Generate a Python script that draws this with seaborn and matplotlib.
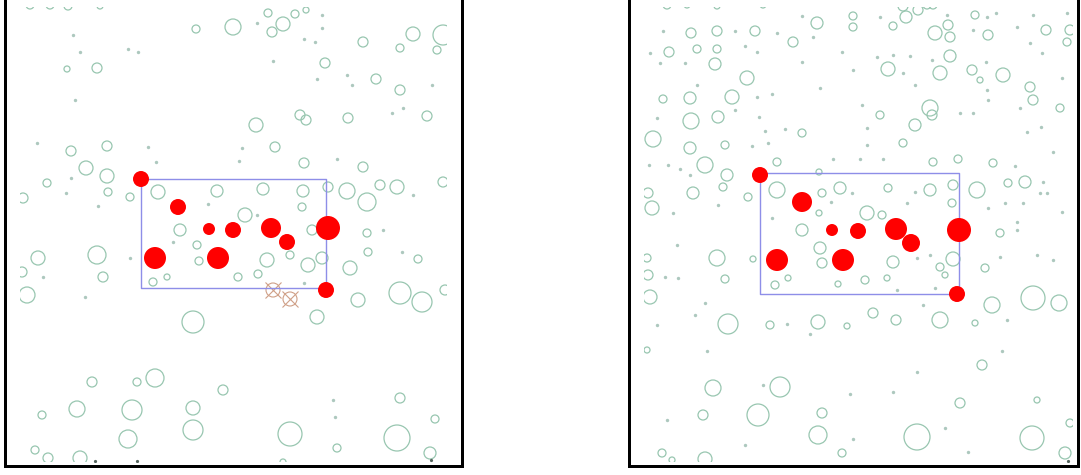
import numpy as np
import pandas as pd
import matplotlib
matplotlib.use("Agg")
import matplotlib.pyplot as plt
from matplotlib.patches import Rectangle
import seaborn as sns

# ========== DATA (positions in picture pixels, r = radius in pixels) ==========

LEFT_RINGS = [
    (30, 5, 4), (50, 5, 4), (68, 6, 4), (100, 6, 3),
    (268, 13, 4), (295, 14, 4), (306, 10, 3), (196, 29, 4), (233, 27, 8), (272, 32, 5),
    (283, 24, 7), (363, 42, 5), (413, 34, 7), (443, 35, 10), (400, 48, 4), (437, 50, 4),
    (67, 69, 3), (97, 68, 5), (325, 63, 5), (376, 79, 5), (400, 90, 5), (427, 116, 5),
    (256, 125, 7), (300, 115, 5), (306, 120, 5), (348, 118, 5), (71, 151, 5), (107, 146, 5),
    (275, 147, 5), (304, 163, 5), (363, 167, 5), (86, 168, 7), (107, 176, 7), (47, 183, 4),
    (108, 192, 4), (130, 197, 4), (158, 192, 7), (217, 191, 6), (263, 189, 6), (303, 191, 6),
    (328, 187, 5), (347, 191, 8), (367, 202, 9), (380, 185, 5), (397, 187, 7), (443, 182, 5),
    (23, 198, 5), (302, 207, 4), (245, 215, 7), (180, 230, 6), (312, 230, 5), (367, 233, 4),
    (38, 258, 7), (97, 255, 9), (197, 245, 4), (199, 261, 4), (267, 260, 7), (290, 255, 4),
    (308, 265, 7), (322, 258, 6), (368, 252, 4), (418, 259, 4), (22, 272, 5), (103, 277, 5),
    (167, 277, 3), (153, 282, 4), (238, 277, 4), (258, 274, 4), (350, 268, 7), (27, 295, 8),
    (358, 300, 7), (400, 293, 11), (422, 302, 10), (445, 290, 5), (193, 322, 11), (317, 317, 7),
    (92, 382, 5), (137, 382, 4), (155, 378, 9), (223, 390, 5), (400, 398, 5), (42, 415, 4),
    (77, 409, 8), (132, 410, 10), (193, 408, 7), (193, 430, 10), (435, 419, 4), (128, 439, 9),
    (290, 434, 12), (397, 438, 13), (337, 448, 4), (35, 450, 4), (48, 458, 5), (80, 458, 7),
    (283, 462, 3), (430, 453, 6),
]

LEFT_DOTS = [
    (257, 23), (322, 15), (322, 28), (73, 35), (80, 52), (128, 49), (138, 52), (75, 100),
    (273, 61), (304, 39), (315, 42), (317, 79), (347, 75), (352, 85), (432, 85), (403, 108),
    (392, 113), (37, 143), (148, 147), (242, 148), (156, 162), (239, 161), (337, 159), (71, 178),
    (66, 193), (413, 195), (98, 206), (208, 204), (257, 215), (383, 230), (130, 258), (173, 242),
    (43, 277), (402, 252), (85, 297), (304, 283), (333, 400), (335, 417),
]

LEFT_SPECKS = [(95, 461), (137, 461), (431, 460)]

LEFT_CROSSES = [(273, 290), (290, 299)]

LEFT_RED = [
    (141, 179, 8), (178, 207, 8), (209, 229, 6), (233, 230, 8), (271, 228, 10),
    (287, 242, 8), (328, 228, 12), (155, 258, 11), (218, 258, 11), (326, 290, 8),
]

LEFT_BOX = (141, 179, 326, 288)

RIGHT_RINGS = [
    (667, 5, 4), (687, 5, 3), (717, 6, 3), (763, 5, 3), (903, 6, 5), (927, 5, 4), (933, 5, 4),
    (691, 33, 5), (717, 31, 5), (755, 31, 5), (817, 23, 6), (793, 42, 5), (853, 16, 4),
    (853, 27, 4), (893, 26, 4), (906, 17, 6), (918, 10, 5), (935, 33, 7), (948, 25, 5),
    (950, 37, 5), (975, 15, 4), (988, 35, 5), (1046, 30, 5), (1070, 30, 5), (1067, 42, 4),
    (669, 52, 5), (697, 49, 4), (717, 49, 4), (715, 64, 6), (950, 56, 6), (888, 69, 7),
    (940, 73, 7), (972, 70, 5), (980, 80, 3), (1003, 75, 7), (747, 78, 7), (1030, 87, 5),
    (663, 99, 4), (690, 98, 6), (732, 97, 7), (880, 115, 4), (915, 125, 6), (930, 108, 8),
    (932, 115, 5), (1033, 100, 5), (1060, 108, 4), (691, 121, 8), (718, 117, 6), (653, 139, 8),
    (690, 148, 6), (725, 145, 4), (802, 133, 4), (903, 143, 4), (705, 165, 8), (727, 175, 6),
    (777, 162, 4), (933, 162, 4), (958, 159, 4), (993, 163, 4), (693, 193, 6), (648, 193, 5),
    (652, 208, 7), (723, 187, 4), (748, 197, 4), (777, 190, 8), (819, 172, 3), (822, 193, 4),
    (840, 188, 6), (867, 213, 7), (882, 215, 4), (888, 188, 4), (930, 190, 6), (953, 185, 5),
    (952, 203, 4), (977, 190, 8), (1008, 183, 4), (1025, 182, 6), (1000, 233, 4), (802, 230, 6),
    (819, 213, 3),
    (717, 258, 8), (753, 259, 3), (820, 248, 6), (822, 263, 5), (893, 262, 6), (940, 267, 4),
    (953, 259, 7), (945, 275, 3), (985, 268, 4), (647, 258, 4), (648, 275, 5), (725, 279, 4),
    (775, 285, 4), (788, 278, 3), (838, 284, 3), (865, 280, 4), (887, 278, 3), (650, 297, 7),
    (728, 324, 10), (770, 325, 4), (818, 322, 7), (847, 326, 3), (873, 313, 5), (896, 320, 5),
    (940, 320, 8), (975, 323, 3), (992, 305, 8), (1033, 298, 12), (1059, 303, 8), (647, 350, 3),
    (982, 365, 5), (713, 388, 8), (780, 387, 10), (960, 403, 5), (1037, 400, 3), (703, 415, 5),
    (758, 415, 11), (822, 413, 5), (1070, 423, 4), (818, 435, 9), (917, 437, 13), (1032, 438, 12),
    (842, 453, 4), (662, 453, 4), (672, 460, 3), (705, 459, 7), (1065, 453, 6),
]

RIGHT_DOTS = [
    (663, 31), (735, 31), (777, 33), (802, 16), (813, 37), (880, 17), (947, 15), (987, 17),
    (996, 13), (973, 30), (1017, 27), (1033, 15), (1067, 13), (1030, 43), (650, 53), (745, 46),
    (757, 52), (660, 63), (685, 63), (802, 62), (842, 52), (853, 70), (877, 57), (893, 55),
    (910, 56), (932, 60), (903, 73), (986, 62), (1042, 53), (1062, 78), (697, 85), (820, 88),
    (915, 85), (987, 90), (757, 97), (772, 94), (862, 105), (960, 113), (973, 113), (988, 100),
    (1020, 108), (657, 118), (735, 110), (759, 117), (752, 146), (768, 143), (765, 131), (785, 129),
    (867, 128), (867, 145), (1027, 132), (1041, 127), (1053, 152), (649, 165), (668, 165),
    (680, 169), (833, 159), (860, 159), (883, 159), (1015, 166), (690, 175), (673, 213), (718, 205),
    (852, 193), (831, 202), (907, 203), (915, 192), (1040, 193), (1047, 193), (1043, 182),
    (988, 208), (1005, 203), (1023, 203), (1062, 212), (772, 218), (1017, 222), (1017, 230),
    (677, 245), (917, 258), (930, 255), (1000, 257), (1037, 255), (1053, 260), (665, 277),
    (678, 278), (897, 290), (935, 288), (705, 303), (695, 315), (787, 324), (810, 334), (923, 305),
    (1007, 320), (657, 325), (707, 351), (1002, 351), (917, 372), (763, 385), (850, 394),
    (893, 392), (667, 420), (945, 428), (853, 439), (745, 445), (968, 452),
]

RIGHT_SPECKS = [(1068, 461)]

RIGHT_CROSSES = []

RIGHT_RED = [
    (760, 175, 8), (802, 202, 10), (832, 230, 6), (858, 231, 8), (896, 229, 11),
    (911, 243, 9), (959, 230, 12), (777, 260, 11), (843, 260, 11), (957, 294, 8),
]

RIGHT_BOX = (760, 173, 959, 294)

# ========== STYLE ==========
W, H, DPI = 1081, 475, 100
PT = 72 / DPI          # points per pixel
RING_COLOR = '#98c6b0'
DOT_COLOR = '#adc8be'
RED = '#ff0000'
BOX_COLOR = '#8e8ee8'
CROSS_COLOR = '#cf9f86'


def marker_area(r):
    return (2 * r * PT) ** 2


def identity_sizes(values):
    lo, hi = float(np.min(values)), float(np.max(values))
    if hi == lo:
        hi = lo + 1e-6
    return (lo, hi)


def draw_panel(ax, rings, dots, specks, crosses, reds, box, content):
    ring_df = pd.DataFrame(rings, columns=['x', 'y', 'r'])
    ring_df['area'] = marker_area(ring_df['r'])
    rng = identity_sizes(ring_df['area'])
    sns.scatterplot(data=ring_df, x='x', y='y', size='area', sizes=rng, size_norm=rng,
                    marker='o', facecolor='none', edgecolor=RING_COLOR, linewidth=0.9,
                    legend=False, ax=ax, zorder=2)

    dot_df = pd.DataFrame(dots, columns=['x', 'y'])
    sns.scatterplot(data=dot_df, x='x', y='y', s=marker_area(1.7), color=DOT_COLOR,
                    linewidth=0, legend=False, ax=ax, zorder=2)

    speck_df = pd.DataFrame(specks, columns=['x', 'y'])
    sns.scatterplot(data=speck_df, x='x', y='y', s=marker_area(1.6), color='#55655e',
                    linewidth=0, legend=False, ax=ax, zorder=2)

    clip = Rectangle((content[0], content[1]), content[2] - content[0], content[3] - content[1],
                     transform=ax.transData)
    for coll in ax.collections:
        coll.set_clip_path(clip)

    if crosses:
        cross_df = pd.DataFrame(crosses, columns=['x', 'y'])
        sns.scatterplot(data=cross_df, x='x', y='y', s=marker_area(7), marker='o',
                        facecolor='none', edgecolor=CROSS_COLOR, linewidth=0.8,
                        legend=False, ax=ax, zorder=3)
        sns.scatterplot(data=cross_df, x='x', y='y', s=marker_area(8), marker='x',
                        color=CROSS_COLOR, linewidth=0.8, legend=False, ax=ax, zorder=3)

    x0, y0, x1, y1 = box
    ax.plot([x0, x1, x1, x0, x0], [y0, y0, y1, y1, y0], color=BOX_COLOR, lw=1.0, zorder=4)

    red_df = pd.DataFrame(reds, columns=['x', 'y', 'r'])
    red_df['area'] = marker_area(red_df['r'])
    rng = identity_sizes(red_df['area'])
    sns.scatterplot(data=red_df, x='x', y='y', size='area', sizes=rng, size_norm=rng,
                    color=RED, edgecolor=RED, linewidth=0, legend=False, ax=ax, zorder=5)


def setup_axes(fig, left, right, bottom, top):
    ax = fig.add_axes([left / W, (H - bottom) / H, (right - left) / W, (bottom - top) / H])
    ax.set_xlim(left, right)
    ax.set_ylim(bottom, top)
    ax.set_xticks([])
    ax.set_yticks([])
    ax.set_facecolor('white')
    for name, sp in ax.spines.items():
        sp.set_color('black')
        sp.set_linewidth(3 * PT)
        sp.set_visible(name != 'top')
    return ax


def main():
    sns.set_style('white')
    fig = plt.figure(figsize=(W / DPI, H / DPI), dpi=DPI)

    ax_l = setup_axes(fig, 4.5, 461.5, 465.5, -5)
    draw_panel(ax_l, LEFT_RINGS, LEFT_DOTS, LEFT_SPECKS, LEFT_CROSSES, LEFT_RED, LEFT_BOX,
               (20, 7, 447, 462))

    ax_r = setup_axes(fig, 628.5, 1077.5, 466, -5)
    draw_panel(ax_r, RIGHT_RINGS, RIGHT_DOTS, RIGHT_SPECKS, RIGHT_CROSSES, RIGHT_RED, RIGHT_BOX,
               (644, 7, 1073, 462))

    for ax in (ax_l, ax_r):
        ax.set_xlabel('')
        ax.set_ylabel('')

    fig.savefig('out.png', dpi=DPI, facecolor='white')
    plt.close(fig)


if __name__ == '__main__':
    main()
